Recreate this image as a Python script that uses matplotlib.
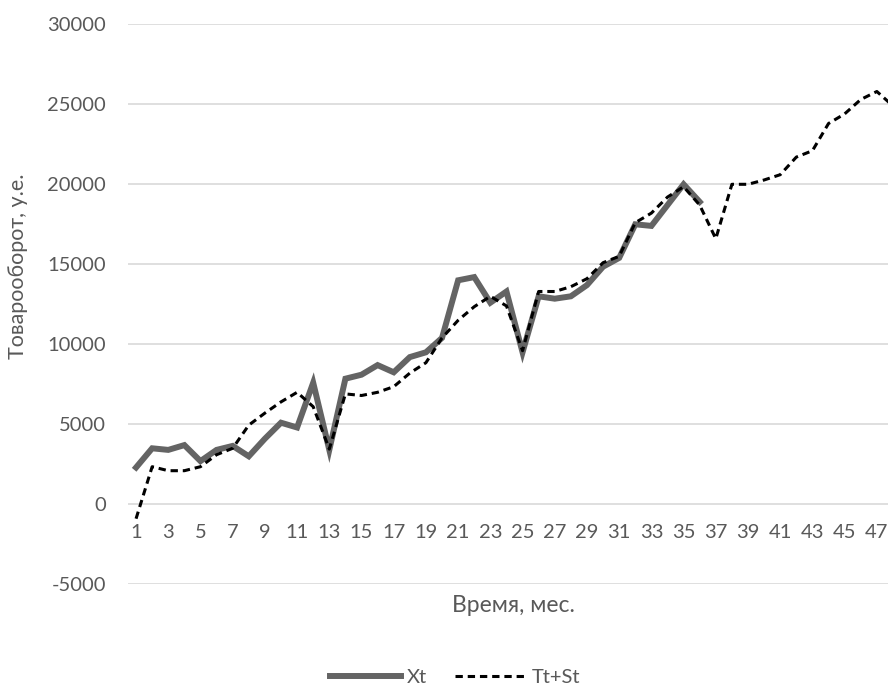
import matplotlib.pyplot as plt
import numpy as np

plt.rcParams['font.family'] = ['Lato', 'DejaVu Sans']
plt.rcParams['axes.unicode_minus'] = False

# данные
months = np.arange(1, 49)
xt = [2300, 3500, 3400, 3700, 2700, 3400, 3650, 3000, 4100, 5100,
      4800, 7600, 3400, 7850, 8100, 8700, 8250, 9200, 9500, 10400,
      14000, 14200, 12600, 13300, 9500, 13000, 12850, 13000, 13700, 14850,
      15400, 17500, 17400, 18700, 20000, 18900]
tt_st = [-900, 2350, 2100, 2100, 2350, 3100, 3500, 4950, 5700, 6400,
         7000, 6100, 3450, 6900, 6800, 7000, 7350, 8200, 8850, 10400,
         11500, 12350, 13000, 12400, 9600, 13300, 13300, 13600, 14100, 15100,
         15500, 17600, 18200, 19200, 19850, 18700, 16600, 20000, 20000, 20270,
         20600, 21700, 22100, 23800, 24400, 25300, 25800, 24900]
x_ticks = list(range(1, 48, 2))
y_ticks = list(range(-5000, 30001, 5000))

W, H = 888, 687
grey = '#595959'

fig = plt.figure(figsize=(W / 100, H / 100), dpi=100)
# plot area runs past the right edge of the picture (cropped chart)
ax = fig.add_axes([128 / W, 1 - 584.3 / H, 773 / W, 560 / H])

ax.plot(months[:len(xt)], xt, color='#646464', lw=4.3, solid_joinstyle='miter',
        label='Xt', zorder=3)
ax.plot(months, tt_st, color='black', lw=2.2, dashes=(2.4, 1.6),
        dash_capstyle='butt', label='Tt+St', zorder=4)

ax.set_xlim(0.5, 48.5)
ax.set_ylim(-5000, 30000)
ax.set_yticks(y_ticks)
ax.set_xticks(x_ticks)
ax.yaxis.grid(True, color='#d9d9d9', lw=1.2)
ax.set_axisbelow(True)
for s in ax.spines.values():
    s.set_visible(False)
ax.spines['bottom'].set_position(('data', 0))
ax.tick_params(axis='both', length=0, labelsize=14.5, labelcolor=grey)
ax.tick_params(axis='y', pad=16)
ax.tick_params(axis='x', pad=14)

fig.text(513 / W, 1 - 606 / H, 'Время, мес.', ha='center', va='center',
         fontsize=16.5, color=grey)
fig.text(18 / W, 1 - 266 / H, 'Товарооборот, у.е.', ha='center', va='center',
         rotation=90, fontsize=15.5, color=grey)

leg = fig.legend(loc='center', bbox_to_anchor=(455 / W, 1 - 677 / H), ncol=2,
                 frameon=False, fontsize=14.5, handlelength=3.5,
                 handletextpad=0.3, columnspacing=1.4)
for t in leg.get_texts():
    t.set_color(grey)

fig.savefig('out.png', dpi=100)
